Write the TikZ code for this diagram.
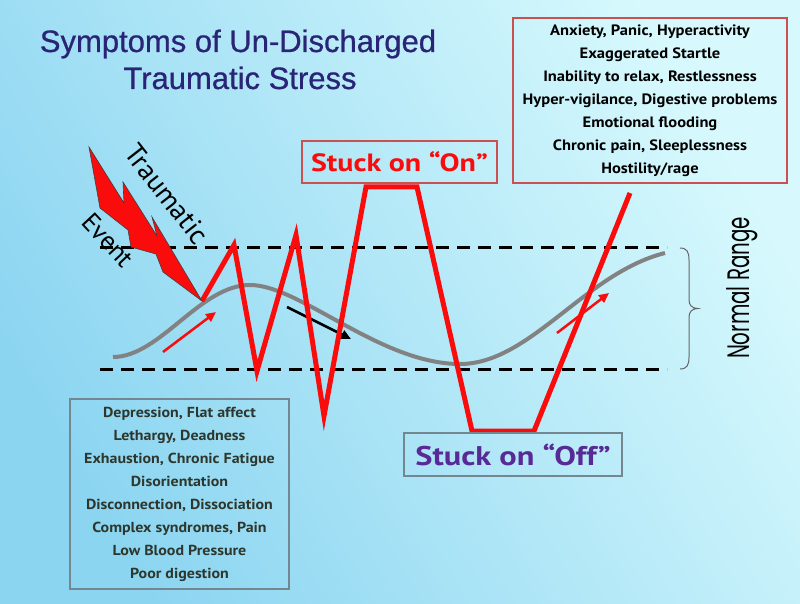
\documentclass[tikz,border=0pt]{standalone}
\usepackage{fontspec}
\setmainfont{Liberation Sans}
\newfontfamily\titlefont[FakeBold=0.7]{Liberation Sans}
\newfontfamily\comic{PT Sans}
\newfontfamily\comiclist[FakeStretch=1.1]{PT Sans}
\newfontfamily\comicbig[FakeStretch=1.2]{PT Sans}
\newfontfamily\gothic[FakeStretch=0.64]{Poppins}
\usetikzlibrary{arrows.meta}
\definecolor{bgBL}{RGB}{140,213,241}
\definecolor{bgTR}{RGB}{215,249,253}
\definecolor{titleblue}{RGB}{42,36,118}
\definecolor{zigred}{RGB}{250,12,12}
\definecolor{boxred}{RGB}{205,80,80}
\definecolor{boxgray}{RGB}{115,135,145}
\definecolor{offpurple}{RGB}{88,42,150}
\definecolor{curvegray}{RGB}{130,130,130}
\definecolor{lowtext}{RGB}{45,55,45}
\begin{document}
\begin{tikzpicture}[x=1pt,y=-1pt,
  dashline/.style={black,line width=3pt,dash pattern=on 13pt off 8pt},
  gcurve/.style={draw=curvegray,line width=4pt},
  zig/.style={draw=zigred,line width=5pt,line join=miter,miter limit=25},
  smallarrow/.style={line width=2.5pt,-{Triangle[length=10pt,width=9pt]}},
  redbox/.style={draw=boxred,line width=1.2pt,inner sep=0pt},
  graybox/.style={draw=boxgray,line width=1.2pt,inner sep=0pt},
  listtext/.style={align=center},
  titletext/.style={text=titleblue,font=\titlefont\fontsize{31}{37}\selectfont,anchor=base},
  slanttext/.style={inner sep=0pt},
  bolt/.style={fill=zigred,draw=black!75,line width=0.6pt,line join=miter},
  bracestyle/.style={draw=black!60,line width=1pt}
]
\useasboundingbox (0,0) rectangle (800,604);
\shade[shading=axis,bottom color=bgBL,top color=bgTR,shading angle=-60] (0,0) rectangle (800,604);

% title
\node[titletext] (title1) at (238,52) {Symptoms of Un-Discharged};
\node[titletext] (title2) at (240,89) {Traumatic Stress};

% normal range lines
\coordinate (ul) at (100,247); \coordinate (ur) at (667,247);
\coordinate (ll) at (100,369); \coordinate (lr) at (667,369);
\draw[dashline] (ul) -- (ur);
\draw[dashline] (ll) -- (lr);

% gray curve
\coordinate (g0) at (113,357);
\coordinate (g1) at (250,285);
\coordinate (g2) at (460,364);
\coordinate (g3) at (665,253);
\draw[gcurve] (g0) .. controls (160,357) and (200,285) .. (g1)
  .. controls (300,285) and (380,364) .. (g2)
  .. controls (530,364) and (585,273) .. (g3);

% small arrows
\coordinate (ra1s) at (163,352); \coordinate (ra1e) at (216,312);
\coordinate (ra2s) at (557,333); \coordinate (ra2e) at (609,293);
\coordinate (bas) at (287,307); \coordinate (bae) at (351,339);
\draw[smallarrow,zigred] (ra1s) -- (ra1e);
\draw[smallarrow,zigred] (ra2s) -- (ra2e);
\draw[smallarrow,black] (bas) -- (bae);

% red zigzag
\coordinate (z0) at (202,301);
\coordinate (z1) at (234,245);
\coordinate (z2) at (257,371);
\coordinate (z3) at (296,235);
\coordinate (z4) at (324,416);
\coordinate (z5) at (366,187);
\coordinate (z6) at (417,187);
\coordinate (z7) at (472,431);
\coordinate (z8) at (534,431);
\coordinate (z9) at (630,193);
\draw[zig] (z0) -- (z1) -- (z2) -- (z3) -- (z4) -- (z5) -- (z6) -- (z7) -- (z8) -- (z9);

% lightning bolt
\path[bolt] (89,147) -- (124,203) -- (123,182) -- (157,236) -- (152,217) -- (z0)
  -- (163,272) -- (156,254) -- (131,247) -- (128,230) -- (100,208) -- cycle;

\node[slanttext,rotate=-52,font=\comic\fontsize{28}{28}\selectfont] (trauma) at (167,194) {Traumatic};
\node[slanttext,rotate=-47,font=\comic\fontsize{26}{26}\selectfont] (event) at (108,240) {Event};

% boxes
\node[redbox,minimum width=195pt,minimum height=42pt,text=zigred,
  font=\comicbig\bfseries\fontsize{25}{25}\selectfont] (on) at (399.5,162) {Stuck on “On”};
\node[redbox,minimum width=274pt,minimum height=165pt,listtext,
  font=\comiclist\bfseries\fontsize{15}{23}\selectfont] (hyper) at (650,100.5)
  {Anxiety, Panic, Hyperactivity\\Exaggerated Startle\\Inability to relax, Restlessness\\
   Hyper-vigilance, Digestive problems\\Emotional flooding\\Chronic pain, Sleeplessness\\Hostility/rage};
\node[graybox,minimum width=219pt,minimum height=190pt,listtext,text=lowtext,
  font=\comiclist\bfseries\fontsize{14.5}{23}\selectfont] (hypo) at (179.5,494)
  {Depression, Flat affect\\Lethargy, Deadness\\Exhaustion, Chronic Fatigue\\Disorientation\\
   Disconnection, Dissociation\\Complex syndromes, Pain\\Low Blood Pressure\\Poor digestion};
\node[graybox,minimum width=218pt,minimum height=43pt,text=offpurple,
  font=\comicbig\bfseries\fontsize{27}{27}\selectfont] (off) at (513,454.5) {Stuck on “Off”};

% brace
\coordinate (bt) at (680,248);
\coordinate (bm) at (698,308.5);
\coordinate (bb) at (680,369);
\draw[bracestyle] (bt) .. controls (687,248) and (689,252) .. (689,260) -- (689,300)
  .. controls (689,305) and (692,308.5) .. (bm)
  .. controls (692,308.5) and (689,312) .. (689,317) -- (689,357)
  .. controls (689,365) and (687,369) .. (bb);

\node[rotate=90,anchor=base,font=\gothic\fontsize{31}{31}\selectfont,inner sep=0pt] (normal) at (749,288) {Normal Range};
\end{tikzpicture}
\end{document}
